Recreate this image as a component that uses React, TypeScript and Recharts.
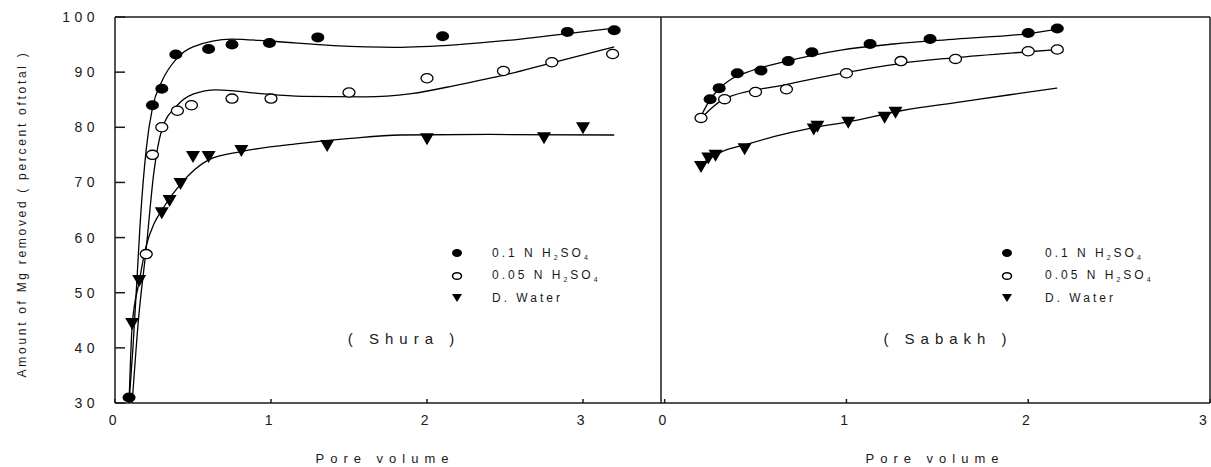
import React from 'react'
import { ComposedChart, Line, Scatter, XAxis, YAxis, ReferenceLine, Legend } from 'recharts'

// Shura – measured points
const shuraX01 = [0.09, 0.24, 0.3, 0.39, 0.6, 0.75, 0.99, 1.3, 2.1, 2.9, 3.2]
const shuraY01 = [31, 84, 87, 93.2, 94.2, 95, 95.3, 96.3, 96.5, 97.3, 97.6]
const shuraX005 = [0.2, 0.24, 0.3, 0.4, 0.49, 0.75, 1.0, 1.5, 2.0, 2.49, 2.8, 3.19]
const shuraY005 = [57, 75, 80, 83, 84, 85.2, 85.2, 86.3, 88.9, 90.2, 91.8, 93.3]
const shuraXW = [0.11, 0.155, 0.3, 0.35, 0.42, 0.5, 0.6, 0.81, 1.36, 2.0, 2.75, 3.0]
const shuraYW = [44.5, 52.3, 64.6, 66.8, 69.9, 74.8, 74.8, 75.9, 76.8, 78, 78.2, 80]

// Shura – fitted curves
const shuraFitX01 = [0.09, 0.115, 0.14, 0.16, 0.2, 0.24, 0.3, 0.4, 0.5, 0.75, 1.0, 1.4, 1.8, 2.2, 2.6, 2.9, 3.2]
const shuraFitY01 = [30, 40, 52, 62, 76, 83.5, 88.3, 92.6, 94.6, 96, 95.6, 94.8, 94.5, 95, 96, 97, 98]
const shuraFitX005 = [0.11, 0.15, 0.2, 0.25, 0.3, 0.4, 0.5, 0.65, 0.9, 1.2, 1.6, 1.9, 2.2, 2.5, 2.8, 3.2]
const shuraFitY005 = [30, 45, 58, 72, 79.5, 84, 86, 86.8, 86.2, 85.6, 85.5, 86.1, 87.7, 89.5, 91.7, 94.6]
const shuraFitXW = [0.09, 0.11, 0.155, 0.2, 0.25, 0.3, 0.42, 0.6, 0.81, 1.19, 1.51, 1.83, 2.4, 3.2]
const shuraFitYW = [30, 44, 52, 58.5, 62.5, 65, 69.7, 74.1, 75.6, 77.1, 78, 78.6, 78.7, 78.6]

// Sabakh – measured points
const sabakhX01 = [0.25, 0.3, 0.4, 0.53, 0.68, 0.81, 1.13, 1.46, 2.0, 2.16]
const sabakhY01 = [85.1, 87.1, 89.8, 90.3, 92, 93.6, 95.1, 96, 97.1, 97.9]
const sabakhX005 = [0.2, 0.33, 0.5, 0.67, 1.0, 1.3, 1.6, 2.0, 2.16]
const sabakhY005 = [81.7, 85.1, 86.4, 86.9, 89.8, 92, 92.4, 93.8, 94.1]
const sabakhXW = [0.2, 0.24, 0.28, 0.44, 0.82, 0.84, 1.01, 1.21, 1.27]
const sabakhYW = [73, 74.5, 75, 76.2, 79.8, 80.3, 81, 81.9, 82.8]

// Sabakh – fitted curves
const sabakhFitX01 = [0.2, 0.25, 0.3, 0.37, 0.48, 0.66, 0.97, 1.26, 1.6, 2.0, 2.16]
const sabakhFitY01 = [82, 85, 87, 88.8, 90.3, 91.9, 94, 95.1, 96, 97, 97.8]
const sabakhFitX005 = [0.2, 0.33, 0.66, 1.01, 1.3, 1.59, 2.0, 2.16]
const sabakhFitY005 = [81.6, 85.2, 87.7, 90, 91.6, 92.6, 93.7, 94.1]
const sabakhFitXW = [0.2, 0.31, 0.45, 0.6, 0.8, 1.01, 1.3, 1.63, 1.9, 2.16]
const sabakhFitYW = [73.3, 75.5, 76.9, 78.3, 79.8, 81, 83, 84.6, 85.9, 87.1]

const xTicks = [0, 1, 2, 3]
const yTicks = [30, 40, 50, 60, 70, 80, 90, 100]
const seriesNames = ['0.1 N H2SO4', '0.05 N H2SO4', 'D. Water']

const zip = (xs: number[], ys: number[]) => xs.map((x, i) => ({ x, y: ys[i] }))

const INK = '#1a1a1a'
const FONT = '"Liberation Sans", Arial, sans-serif'

const FilledDot = (p: any) => <ellipse cx={p.cx} cy={p.cy} rx={6.5} ry={5} fill="#000" />
const OpenDot = (p: any) => (
  <ellipse cx={p.cx} cy={p.cy} rx={6} ry={4.6} fill="#fff" stroke="#000" strokeWidth={1.3} />
)
const TriDown = (p: any) => (
  <path d={`M${p.cx - 7},${p.cy - 5} L${p.cx + 7},${p.cy - 5} L${p.cx},${p.cy + 7} Z`} fill="#000" />
)

const LegendIcon = ({ i }: { i: number }) => (
  <svg width={14} height={12} style={{ display: 'block' }}>
    {i === 0 && <ellipse cx={7} cy={6} rx={5} ry={4} fill="#000" />}
    {i === 1 && <ellipse cx={7} cy={6} rx={4.5} ry={3.3} fill="#fff" stroke="#000" strokeWidth={1.5} />}
    {i === 2 && <path d="M2,2 L12,2 L7,10 Z" fill="#000" />}
  </svg>
)

const LegendLabel = ({ name }: { name: string }) => {
  if (name.includes('H2SO4')) {
    const head = name.replace('H2SO4', '')
    return (
      <span>
        {head}H<sub style={{ fontSize: 7 }}>2</sub>SO<sub style={{ fontSize: 7 }}>4</sub>
      </span>
    )
  }
  return <span>{name}</span>
}

const legendContent = (gap: number) => () => (
  <div style={{ fontFamily: FONT, fontSize: 12, letterSpacing: 3, color: INK }}>
    {seriesNames.map((n, i) => (
      <div key={n} style={{ display: 'flex', alignItems: 'center', height: 22.5 }}>
        <LegendIcon i={i} />
        <div style={{ width: gap }} />
        <LegendLabel name={n} />
      </div>
    ))}
  </div>
)

const tickStyle = { fontSize: 14, fill: INK, fontFamily: FONT, letterSpacing: 4.5 }

interface PanelProps {
  fits: { x: number; y: number }[][]
  pts: { x: number; y: number }[][]
  xDomain: [number, number]
  showY: boolean
  width: number
  marginLeft: number
  marginRight: number
  legendLeft: number
  legendGap: number
}

const Panel = ({ fits, pts, xDomain, showY, width, marginLeft, marginRight, legendLeft, legendGap }: PanelProps) => {
  const shapes = [FilledDot, OpenDot, TriDown]
  return (
    <ComposedChart width={width} height={467} margin={{ top: 17, right: marginRight, bottom: 14, left: marginLeft }}>
      <XAxis
        dataKey="x"
        type="number"
        domain={xDomain}
        ticks={xTicks}
        allowDataOverflow
        height={50}
        tickSize={-4}
        tickMargin={16}
        tick={tickStyle}
        stroke={INK}
        strokeWidth={1.5}
      />
      <YAxis
        dataKey="y"
        type="number"
        domain={[30, 100]}
        ticks={yTicks}
        allowDataOverflow
        width={showY ? 60 : 0}
        hide={!showY}
        tickSize={-10}
        tickMargin={26}
        tick={tickStyle}
        stroke={INK}
        strokeWidth={1.5}
      />
      <ReferenceLine y={100} stroke={INK} strokeWidth={1.5} />
      <ReferenceLine x={xDomain[1]} stroke={INK} strokeWidth={1.5} />
      {fits.map((f, i) => (
        <Line
          key={`fit-${i}`}
          data={f}
          dataKey="y"
          type="monotone"
          stroke="#000"
          strokeWidth={1.3}
          dot={false}
          activeDot={false}
          legendType="none"
          isAnimationActive={false}
        />
      ))}
      {pts.map((p, i) => (
        <Scatter
          key={`pts-${i}`}
          name={seriesNames[i]}
          data={p}
          shape={shapes[i]}
          isAnimationActive={false}
        />
      ))}
      <Legend
        verticalAlign="middle"
        align="center"
        content={legendContent(legendGap)}
        wrapperStyle={{ position: 'absolute', left: legendLeft, top: 242, width: 220, bottom: 'auto' }}
      />
    </ComposedChart>
  )
}

const App = () => {
  const shuraFits = [zip(shuraFitX01, shuraFitY01), zip(shuraFitX005, shuraFitY005), zip(shuraFitXW, shuraFitYW)]
  const shuraPts = [zip(shuraX01, shuraY01), zip(shuraX005, shuraY005), zip(shuraXW, shuraYW)]
  const sabakhFits = [zip(sabakhFitX01, sabakhFitY01), zip(sabakhFitX005, sabakhFitY005), zip(sabakhFitXW, sabakhFitYW)]
  const sabakhPts = [zip(sabakhX01, sabakhY01), zip(sabakhX005, sabakhY005), zip(sabakhXW, sabakhYW)]

  const txt: React.CSSProperties = { position: 'absolute', fontFamily: FONT, color: INK, whiteSpace: 'nowrap' }

  return (
    <div style={{ position: 'absolute', left: 0, top: 0, width: 1211, height: 467, background: '#fff', overflow: 'hidden' }}>
      <div style={{ position: 'absolute', left: 0, top: 0 }}>
        <Panel
          fits={shuraFits}
          pts={shuraPts}
          xDomain={[0, 3.5]}
          showY
          width={680}
          marginLeft={55}
          marginRight={19}
          legendLeft={450}
          legendGap={28}
        />
      </div>
      <div style={{ position: 'absolute', left: 640, top: 0 }}>
        <Panel
          fits={sabakhFits}
          pts={sabakhPts}
          xDomain={[-0.02, 3]}
          showY={false}
          width={571}
          marginLeft={21}
          marginRight={1}
          legendLeft={360}
          legendGap={31}
        />
      </div>

      <div
        style={{
          ...txt,
          left: 22,
          top: 214,
          fontSize: 12,
          letterSpacing: 2.7,
          transform: 'translate(-50%, -50%) rotate(-90deg)',
        }}
      >
        Amount of Mg removed ( percent oftotal )
      </div>
      <div style={{ ...txt, left: 385, top: 458, fontSize: 13, letterSpacing: 6, transform: 'translate(-50%, -50%)' }}>
        Pore volume
      </div>
      <div style={{ ...txt, left: 935, top: 458, fontSize: 13, letterSpacing: 6, transform: 'translate(-50%, -50%)' }}>
        Pore volume
      </div>
      <div style={{ ...txt, left: 404, top: 338, fontSize: 15, letterSpacing: 6, transform: 'translate(-50%, -50%)' }}>
        ( Shura )
      </div>
      <div style={{ ...txt, left: 948, top: 338, fontSize: 15, letterSpacing: 6, transform: 'translate(-50%, -50%)' }}>
        ( Sabakh )
      </div>
    </div>
  )
}

export default App
